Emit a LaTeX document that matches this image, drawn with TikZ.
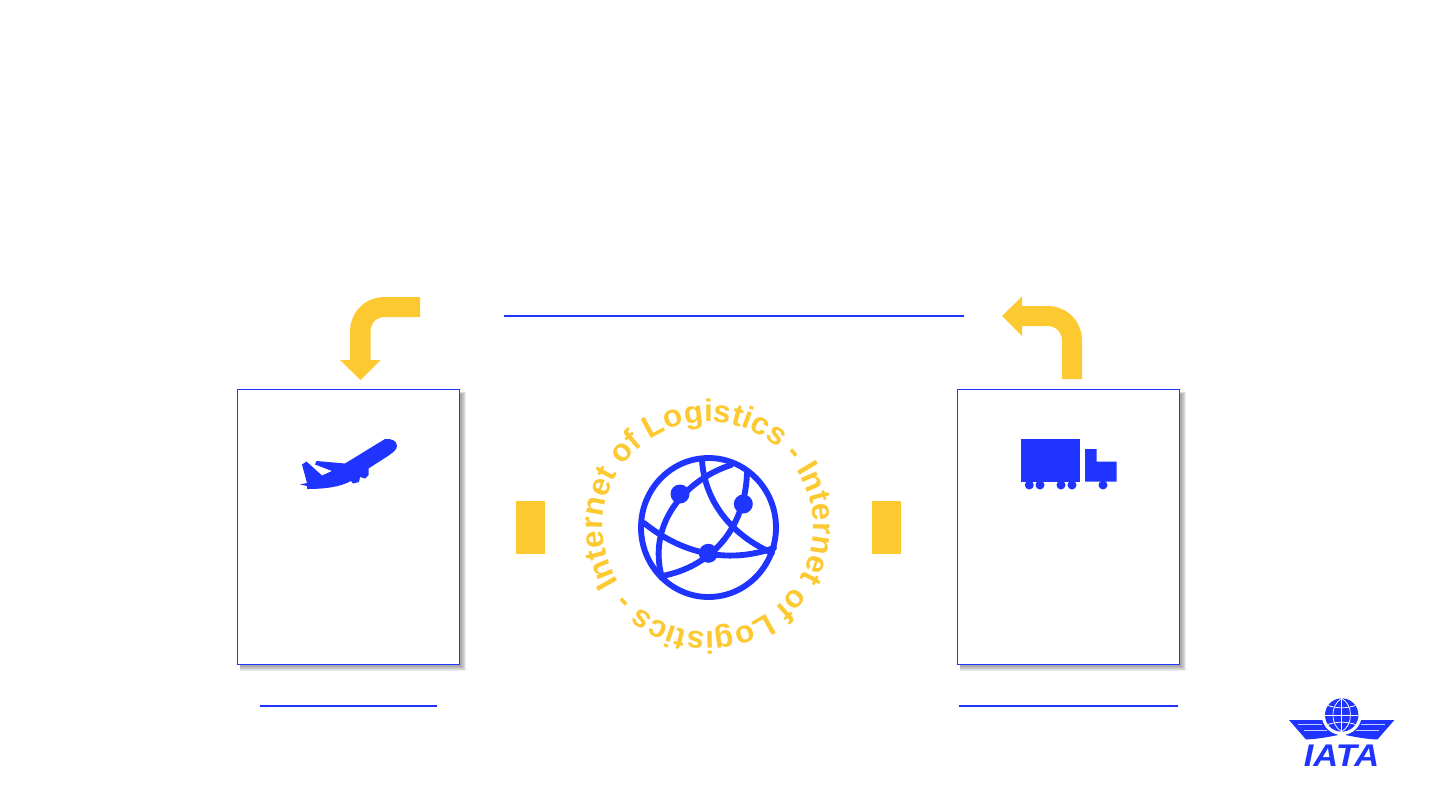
\documentclass[tikz,border=0pt]{standalone}
\usepackage{fontspec}
\setmainfont{Liberation Sans}
\usetikzlibrary{decorations.text}
\definecolor{iblue}{HTML}{1F35FF}
\definecolor{iyellow}{HTML}{FCC931}
\tikzset{
  panel/.style={draw=iblue,line width=0.75pt,fill=white,inner sep=0pt,minimum width=166.5pt,minimum height=206.25pt},
  rule/.style={draw=iblue,line width=1pt},
  yblock/.style={fill=iyellow},
  bluefill/.style={fill=iblue},
  globeline/.style={draw=iblue,line width=4.4pt,line join=round,line cap=round},
  gridline/.style={draw=white,line width=0.55pt},
  feather/.style={draw=white!75!iblue,line width=0.7pt}
}
\newcommand{\softshadow}[4]{%
  \foreach \k in {0,...,4}{
    \fill[black,opacity=.075] ({#1+2},{#2+2+\k*0.6}) rectangle ({#3+6.5-\k},{#4+6.5-\k});
  }}
\begin{document}
\begin{tikzpicture}[x=0.75pt,y=-0.75pt]
\useasboundingbox[fill=white] (0,0) rectangle (1440,810);

% rules
\coordinate (r1a) at (504,316); \coordinate (r1b) at (964,316);
\coordinate (r2a) at (260,706); \coordinate (r2b) at (437,706);
\coordinate (r3a) at (959,706); \coordinate (r3b) at (1178,706);
\draw[rule] (r1a) -- (r1b);
\draw[rule] (r2a) -- (r2b);
\draw[rule] (r3a) -- (r3b);

% panels
\softshadow{237.5}{389.5}{459.5}{664.5}
\softshadow{957.5}{389.5}{1179.5}{664.5}
\node[panel] (leftpanel) at (348.5,527) {};
\node[panel] (rightpanel) at (1068.5,527) {};

% yellow arrows
\fill[iyellow] (420,297) -- (385,297) .. controls (365,297) and (350,312) .. (350,332) -- (350,360) -- (340,360) -- (360.5,380) -- (380.5,360) -- (370.5,360) -- (370.5,332) .. controls (370.5,323) and (376,317) .. (385,317) -- (420,317) -- cycle;
\fill[iyellow] (1062,379) -- (1082,379) -- (1082,341) .. controls (1082,321) and (1067,306) .. (1047,306) -- (1022,306) -- (1022,296.5) -- (1002,316) -- (1022,336) -- (1022,326) -- (1047,326) .. controls (1056,326) and (1062,332) .. (1062,341) -- cycle;

% yellow blocks
\fill[yblock] (516,501) rectangle (545,554);
\fill[yblock] (872,501) rectangle (901,554);

% ring text
\coordinate (ringc) at (708,527);
\path[decorate,decoration={text along path,text align={fit to path},
  text={|\fontsize{23.5pt}{26pt}\bfseries\color{iyellow}|Internet of Logistics - Internet of Logistics -}}]
  (ringc) ++(148:105) arc[start angle=148,delta angle=353,radius=105];

% globe
\draw[globeline] (708.5,527.5) ellipse[x radius=67.5,y radius=69.5];
\draw[globeline] (702,460) .. controls (704,495) and (725,532) .. (772,553);
\draw[globeline] (731,465) .. controls (690,478) and (646,520) .. (662,578);
\draw[globeline] (662,576) .. controls (710,567) and (745,530) .. (747,473);
\draw[globeline] (644,523) .. controls (680,552) and (725,565) .. (774,548);
\fill[bluefill] (680,494) circle[radius=9.5];
\fill[bluefill] (743.3,504) circle[radius=9.5];
\fill[bluefill] (708.3,553.3) circle[radius=9.5];

% plane
\fill[iblue,line join=round] (385,439) .. controls (392,438.5) and (397,441) .. (397,446)
  .. controls (397,450) and (392,453) .. (388,456) -- (368.5,468.5) -- (368.5,475)
  -- (365,478.5) -- (360,477) -- (359,482) -- (353,483.5) -- (351,481)
  .. controls (340,487) and (325,489) .. (307,489) -- (307,486) -- (300,484.5) -- (307,483)
  -- (302,464.5) -- (306.5,461.5) -- (322,475.5) -- (332,471) -- (315,464.5) -- (316.5,461)
  -- (345,463.5) -- cycle;

% truck
\fill[bluefill] (1021,438.7) rectangle (1080,481.7);
\fill[bluefill] (1085,449) -- (1096.7,449) -- (1096.7,461.7) -- (1116.7,461.7) -- (1116.7,481.7) -- (1085,481.7) -- cycle;
\foreach \wx in {1029.3,1040,1061,1072,1103}{
  \fill[bluefill] (\wx,485) circle[radius=4.5];
}

% IATA logo
\fill[bluefill] (1289,720) -- (1330,720) -- (1338,735) .. controls (1328,737) and (1318,739) .. (1306,739.5) -- cycle;
\fill[bluefill] (1394.4,720) -- (1353.4,720) -- (1345.4,735) .. controls (1355.4,737) and (1365.4,739) .. (1377.4,739.5) -- cycle;
\draw[feather] (1298,724.5) -- (1322,724.5);
\draw[feather] (1304,730.5) -- (1327,730.5);
\draw[feather] (1385.4,724.5) -- (1361.4,724.5);
\draw[feather] (1379.4,730.5) -- (1356.4,730.5);
\fill[white] (1341.7,715) circle[radius=20];
\fill[bluefill] (1341.7,715) circle[radius=16.7];
\draw[gridline] (1341.7,698.3) -- (1341.7,731.7);
\draw[gridline] (1325,715) -- (1358.4,715);
\draw[gridline] (1328,705.5) .. controls (1336,708.5) and (1347,708.5) .. (1355.4,705.5);
\draw[gridline] (1328,724.5) .. controls (1336,721.5) and (1347,721.5) .. (1355.4,724.5);
\draw[gridline] (1341.7,698.3) .. controls (1330,705) and (1330,725) .. (1341.7,731.7);
\draw[gridline] (1341.7,698.3) .. controls (1353.4,705) and (1353.4,725) .. (1341.7,731.7);
\node[text=iblue,font={\fontsize{23.5pt}{25pt}\bfseries\itshape},inner sep=0pt,anchor=base,xscale=1.1] (iatatext) at (1341.5,766.5) {IATA};
\end{tikzpicture}
\end{document}
